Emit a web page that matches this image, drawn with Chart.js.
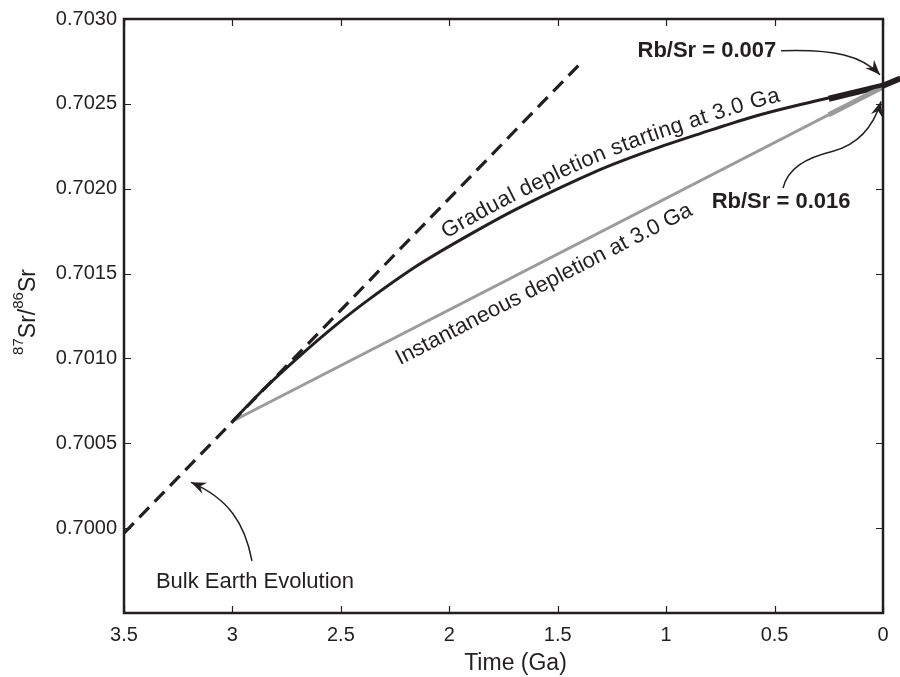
<!DOCTYPE html>
<html>
<head>
<meta charset="utf-8">
<script src="https://cdn.jsdelivr.net/npm/chart.js@4.4.1/dist/chart.umd.min.js"></script>
<style>
  html, body { margin: 0; padding: 0; background: #ffffff; }
  #wrap { width: 900px; height: 677px; }
</style>
</head>
<body>
<div id="wrap"><canvas id="c" width="900" height="677"></canvas></div>
<script>
// ---------------- data ----------------
const xTickValues = [3.5, 3, 2.5, 2, 1.5, 1, 0.5, 0];
const xTickLabels = ['3.5', '3', '2.5', '2', '1.5', '1', '0.5', '0'];
const yTickValues = [0.7030, 0.7025, 0.7020, 0.7015, 0.7010, 0.7005, 0.7000];
const yTickLabels = ['0.7030', '0.7025', '0.7020', '0.7015', '0.7010', '0.7005', '0.7000'];

// Bulk Earth evolution (dashed)
const bulkT  = [3.5, 1.39];
const bulkSr = [0.69997, 0.702745];

// Gradual depletion starting at 3.0 Ga (black curve)
const gradualT  = [3.0, 2.85, 2.69, 2.53, 2.37, 2.14, 1.90, 1.67, 1.31, 1.07, 0.84, 0.61, 0.38, 0.0];
const gradualSr = [0.70063, 0.700826, 0.701014, 0.701189, 0.701348, 0.701553, 0.701734, 0.701893,
                   0.702109, 0.702227, 0.702326, 0.70242, 0.702496, 0.702607];
// present-day segment, Rb/Sr = 0.007 (thick black)
const gradualNowT  = [0.25, 0.0, -0.08];
const gradualNowSr = [0.70253, 0.702607, 0.70265];

// Instantaneous depletion at 3.0 Ga (grey line)
const instantT  = [3.0, 0.0];
const instantSr = [0.70063, 0.70260];
// present-day segment, Rb/Sr = 0.016 (thick grey)
const instantNowT  = [0.25, 0.0];
const instantNowSr = [0.702436, 0.70260];

// ---------------- styles ----------------
const INK = '#231f20';
const GREY = '#9b9b9b';
const FONT = "'Liberation Sans', Arial, Helvetica, sans-serif";

const pts = (ts, vs) => ts.map((t, i) => ({ x: t, y: vs[i] }));

const frameAndNotes = {
  id: 'frameAndNotes',
  afterDatasetsDraw(chart) {
    const { ctx, chartArea: a, scales } = chart;
    const X = t => scales.x.getPixelForValue(t);
    const Y = v => scales.y.getPixelForValue(v);
    ctx.save();

    // frame
    ctx.strokeStyle = INK;
    ctx.lineWidth = 2.5;
    ctx.strokeRect(a.left, a.top, a.right - a.left, a.bottom - a.top);

    // inward ticks on all four sides
    ctx.lineWidth = 1.2;
    ctx.beginPath();
    xTickValues.forEach(t => {
      const p = Math.round(X(t)) + 0.5;
      ctx.moveTo(p, a.bottom); ctx.lineTo(p, a.bottom - 7);
      ctx.moveTo(p, a.top); ctx.lineTo(p, a.top + 7);
    });
    yTickValues.forEach(v => {
      const p = Math.round(Y(v)) + 0.5;
      ctx.moveTo(a.left, p); ctx.lineTo(a.left + 7, p);
      ctx.moveTo(a.right, p); ctx.lineTo(a.right - 7, p);
    });
    ctx.stroke();

    // ---------- arrows ----------
    function arrow(path) {
      const P = path.map(([t, v]) => [X(t), Y(v)]);
      ctx.strokeStyle = INK;
      ctx.lineWidth = 1.5;
      ctx.beginPath();
      ctx.moveTo(P[0][0], P[0][1]);
      for (let i = 1; i + 2 < P.length + 1; i += 3) {
        ctx.bezierCurveTo(P[i][0], P[i][1], P[i + 1][0], P[i + 1][1], P[i + 2][0], P[i + 2][1]);
      }
      ctx.stroke();
      const tip = P[P.length - 1], prev = P[P.length - 2];
      const ang = Math.atan2(tip[1] - prev[1], tip[0] - prev[0]);
      const L = 15, W = 6, N = 10;
      ctx.fillStyle = INK;
      ctx.beginPath();
      ctx.moveTo(tip[0], tip[1]);
      ctx.lineTo(tip[0] - L * Math.cos(ang) + W * Math.sin(ang), tip[1] - L * Math.sin(ang) - W * Math.cos(ang));
      ctx.lineTo(tip[0] - N * Math.cos(ang), tip[1] - N * Math.sin(ang));
      ctx.lineTo(tip[0] - L * Math.cos(ang) - W * Math.sin(ang), tip[1] - L * Math.sin(ang) + W * Math.cos(ang));
      ctx.closePath();
      ctx.fill();
    }
    // Rb/Sr = 0.007 arrow
    arrow([[0.470, 0.702813], [0.221, 0.702824], [0.097, 0.702783], [0.014, 0.702672]]);
    // Rb/Sr = 0.016 arrow (S-shaped)
    arrow([[0.461, 0.702004], [0.438, 0.702121], [0.360, 0.702180], [0.231, 0.702221],
           [0.129, 0.702256], [0.051, 0.702338], [0.009, 0.702514]]);
    // Bulk Earth arrow
    arrow([[2.910, 0.699807], [2.942, 0.700029], [3.020, 0.700176], [3.191, 0.700270]]);

    // ---------- labels ----------
    ctx.fillStyle = INK;
    ctx.textAlign = 'center';
    ctx.textBaseline = 'middle';
    ctx.font = 'bold 22px ' + FONT;
    ctx.fillText('Rb/Sr = 0.007', X(0.812), Y(0.702813));
    ctx.fillText('Rb/Sr = 0.016', X(0.470), Y(0.701922));
    ctx.font = '22px ' + FONT;
    ctx.fillText('Bulk Earth Evolution', X(2.896), Y(0.699684));

    // Instantaneous text, rotated along the grey line
    {
      const ang = Math.atan2(Y(instantSr[1]) - Y(instantSr[0]), X(instantT[1]) - X(instantT[0]));
      ctx.save();
      ctx.translate(X(1.563), Y(0.701436));
      ctx.rotate(ang);
      ctx.fillText('Instantaneous depletion at 3.0 Ga', 0, 0);
      ctx.restore();
    }

    // Gradual text, following the black curve
    {
      const meta = chart.getDatasetMeta(1);
      const el = meta.data;
      const poly = [];
      for (let i = 0; i < el.length - 1; i++) {
        const p0 = el[i], p1 = el[i + 1];
        const c1x = p0.cp2x ?? p0.x, c1y = p0.cp2y ?? p0.y;
        const c2x = p1.cp1x ?? p1.x, c2y = p1.cp1y ?? p1.y;
        for (let k = 0; k < 30; k++) {
          const s = k / 30, u = 1 - s;
          poly.push([
            u*u*u*p0.x + 3*u*u*s*c1x + 3*u*s*s*c2x + s*s*s*p1.x,
            u*u*u*p0.y + 3*u*u*s*c1y + 3*u*s*s*c2y + s*s*s*p1.y
          ]);
        }
      }
      poly.push([el[el.length - 1].x, el[el.length - 1].y]);
      const cum = [0];
      for (let i = 1; i < poly.length; i++) {
        cum.push(cum[i - 1] + Math.hypot(poly[i][0] - poly[i - 1][0], poly[i][1] - poly[i - 1][1]));
      }
      const at = s => {
        let i = 1;
        while (i < cum.length - 1 && cum[i] < s) i++;
        const f = (s - cum[i - 1]) / (cum[i] - cum[i - 1] || 1);
        return [poly[i - 1][0] + f * (poly[i][0] - poly[i - 1][0]), poly[i - 1][1] + f * (poly[i][1] - poly[i - 1][1])];
      };
      const startX = X(2.0);
      let s = 0;
      for (let i = 0; i < poly.length; i++) { if (poly[i][0] >= startX) { s = cum[i]; break; } }
      const text = 'Gradual depletion starting at 3.0 Ga';
      ctx.font = '22px ' + FONT;
      ctx.textAlign = 'left';
      ctx.textBaseline = 'alphabetic';
      const off = 8, spacing = 0.35;
      for (const ch of text) {
        const w = ctx.measureText(ch).width + spacing;
        const p = at(s), q = at(s + Math.max(w, 4));
        const ang = Math.atan2(q[1] - p[1], q[0] - p[0]);
        const nx = Math.sin(ang), ny = -Math.cos(ang);
        ctx.save();
        ctx.translate(p[0] + nx * off, p[1] + ny * off);
        ctx.rotate(ang);
        ctx.fillText(ch, 0, 0);
        ctx.restore();
        s += w;
      }
    }

    // ---------- axis titles ----------
    ctx.textAlign = 'center';
    ctx.textBaseline = 'middle';
    ctx.font = '23px ' + FONT;
    ctx.fillText('Time (Ga)', (a.left + a.right) / 2 + 12, 664);

    {
      const big = '23px ' + FONT, small = '15px ' + FONT;
      const parts = [['87', small, -12], ['Sr/', big, 0], ['86', small, -12], ['Sr', big, 0]];
      let W = 0;
      parts.forEach(p => { ctx.font = p[1]; p.push(ctx.measureText(p[0]).width); W += p[3]; });
      ctx.save();
      ctx.translate(35, (a.top + a.bottom) / 2 - 4);
      ctx.rotate(-Math.PI / 2);
      ctx.textAlign = 'left';
      ctx.textBaseline = 'alphabetic';
      let xx = -W / 2;
      parts.forEach(p => { ctx.font = p[1]; ctx.fillText(p[0], xx, p[2]); xx += p[3]; });
      ctx.restore();
    }
    ctx.restore();
  }
};

new Chart(document.getElementById('c'), {
  type: 'scatter',
  data: {
    datasets: [
      { data: pts(bulkT, bulkSr), showLine: true, borderColor: INK, borderWidth: 3.2,
        borderDash: [14, 8], pointRadius: 0, borderCapStyle: 'butt' },
      { data: pts(gradualT, gradualSr), showLine: true, borderColor: INK, borderWidth: 3,
        tension: 0.3, pointRadius: 0 },
      { data: pts(instantT, instantSr), showLine: true, borderColor: GREY, borderWidth: 3,
        pointRadius: 0 },
      { data: pts(instantNowT, instantNowSr), showLine: true, borderColor: GREY, borderWidth: 5,
        pointRadius: 0 },
      { data: pts(gradualNowT, gradualNowSr), showLine: true, borderColor: INK, borderWidth: 6,
        pointRadius: 0, clip: false }
    ]
  },
  options: {
    responsive: false,
    devicePixelRatio: 1,
    animation: false,
    layout: { padding: { left: 0, right: 17, top: 15, bottom: 0 } },
    plugins: { legend: { display: false }, tooltip: { enabled: false } },
    scales: {
      x: {
        type: 'linear', reverse: true, min: 0, max: 3.5,
        grid: { display: false, drawTicks: false }, border: { display: false },
        afterBuildTicks: s => { s.ticks = xTickValues.map(v => ({ value: v })); },
        afterFit: s => { s.height = 64; },
        ticks: {
          padding: 10, color: INK, font: { family: FONT, size: 20 },
          callback: (v, i) => xTickLabels[i]
        }
      },
      y: {
        type: 'linear', min: 0.6995, max: 0.7030,
        grid: { display: false, drawTicks: false }, border: { display: false },
        afterBuildTicks: s => { s.ticks = yTickValues.map(v => ({ value: v })); },
        afterFit: s => { s.width = 124; },
        ticks: {
          padding: 7, color: INK, font: { family: FONT, size: 20 },
          callback: (v, i) => yTickLabels[i]
        }
      }
    }
  },
  plugins: [frameAndNotes]
});
</script>
</body>
</html>
